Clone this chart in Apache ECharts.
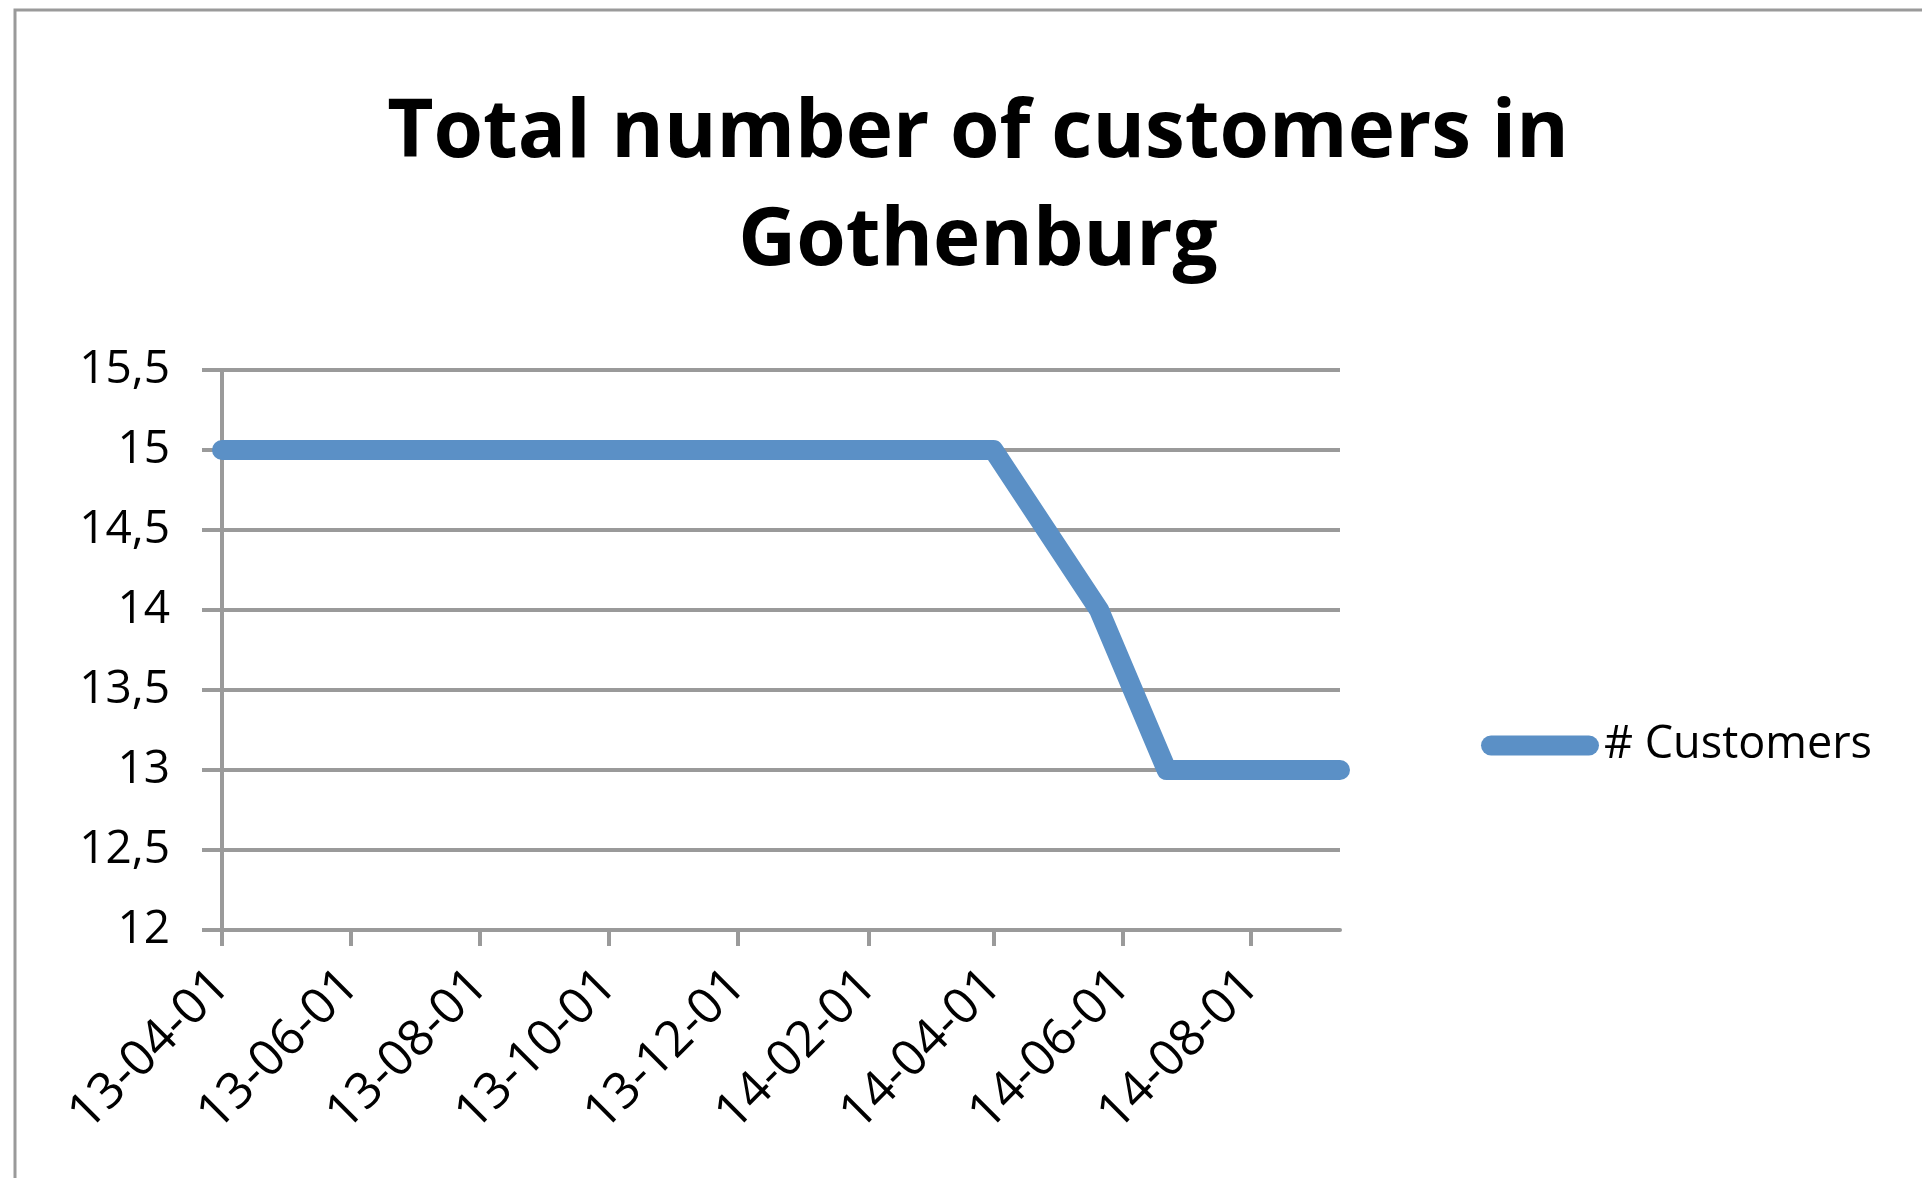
<!DOCTYPE html>
<html>
<head>
<meta charset="utf-8">
<title>Total number of customers in Gothenburg</title>
<script src="https://cdn.jsdelivr.net/npm/echarts@6/dist/echarts.min.js"></script>
<style>
  html, body { margin: 0; padding: 0; background: #fff; }
  #chart { width: 1922px; height: 1178px; }
</style>
</head>
<body>
<div id="chart"></div>
<script>
'use strict';

// data
var dates = [
  '2013-04-01', '2013-05-01', '2013-06-01', '2013-07-01', '2013-08-01',
  '2013-09-01', '2013-10-01', '2013-11-01', '2013-12-01', '2014-01-01',
  '2014-02-01', '2014-03-01', '2014-04-01', '2014-05-21', '2014-06-22',
  '2014-09-12'
];
var customers = [15, 15, 15, 15, 15, 15, 15, 15, 15, 15, 15, 15, 15, 14, 13, 13];
var tickDates = [
  '2013-04-01', '2013-06-01', '2013-08-01', '2013-10-01', '2013-12-01',
  '2014-02-01', '2014-04-01', '2014-06-01', '2014-08-01'
];
var xMin = '2013-04-01';
var xMax = '2014-09-12';
var yMin = 12, yMax = 15.5, yStep = 0.5;
var seriesName = '# Customers';
var titleLines = ['Total number of customers in', 'Gothenburg'];

var ts = function (s) { return +echarts.time.parse(s); };

var font = '"Open Sans", "Noto Sans", sans-serif';
var gray = '#9a9a9a';

var chart = echarts.init(document.getElementById('chart'), null, { renderer: 'canvas' });

var option = {
  backgroundColor: '#fff',
  animation: false,
  title: {
    text: titleLines.join('\n'),
    left: 978,          // with textAlign centre this is the text centre
    top: 80,
    padding: 0,
    textAlign: 'center',
    textStyle: {
      fontFamily: font,
      fontWeight: 'bold',
      fontSize: 80,
      lineHeight: 108,
      color: '#000'
    }
  },
  graphic: [{
    type: 'rect',
    silent: true,
    shape: { x: 15, y: 10, width: 2000, height: 2000 },
    style: { fill: 'none', stroke: gray, lineWidth: 3 }
  }],
  legend: {
    left: 1476,
    top: 718,
    itemWidth: 118,
    itemHeight: 20,
    itemGap: 0,
    icon: 'path://M10,0 L108,0 A10,10 0 0 1 108,20 L10,20 A10,10 0 0 1 10,0 Z',
    textStyle: { fontFamily: font, fontSize: 45, color: '#000' },
    data: [seriesName]
  },
  grid: {
    left: 222,
    right: 582,
    top: 370,
    bottom: 248,
    containLabel: false
  },
  xAxis: {
    type: 'value',
    min: ts(xMin),
    max: ts(xMax),
    axisLine: { show: true, lineStyle: { color: gray, width: 4 } },
    axisTick: {
      show: true,
      length: 16,
      lineStyle: { color: gray, width: 4 },
      customValues: tickDates.map(ts)
    },
    axisLabel: {
      rotate: 45,
      margin: 48,
      fontFamily: font,
      fontSize: 50,
      color: '#000',
      customValues: tickDates.map(ts),
      formatter: function (v) { return echarts.time.format(v, '{yy}-{MM}-{dd}', false); }
    },
    splitLine: { show: false }
  },
  yAxis: {
    type: 'value',
    min: yMin,
    max: yMax,
    interval: yStep,
    axisLine: { show: true, lineStyle: { color: gray, width: 4 } },
    axisTick: { show: true, length: 20, lineStyle: { color: gray, width: 4 } },
    axisLabel: {
      margin: 52,
      fontFamily: font,
      fontSize: 46,
      color: '#000',
      formatter: function (v) { return String(v).replace('.', ','); }
    },
    splitLine: { show: true, lineStyle: { color: gray, width: 4 } }
  },
  series: [{
    name: seriesName,
    type: 'line',
    showSymbol: false,
    symbol: 'none',
    clip: true,
    data: dates.map(function (d, i) { return [ts(d), customers[i]]; }),
    color: '#5b90c6',
    lineStyle: { color: '#5b90c6', width: 20, cap: 'round', join: 'round' },
    itemStyle: { color: '#5b90c6' }
  }]
};

chart.setOption(option);
window.addEventListener('resize', function () {
  chart.resize();
});
</script>
</body>
</html>
